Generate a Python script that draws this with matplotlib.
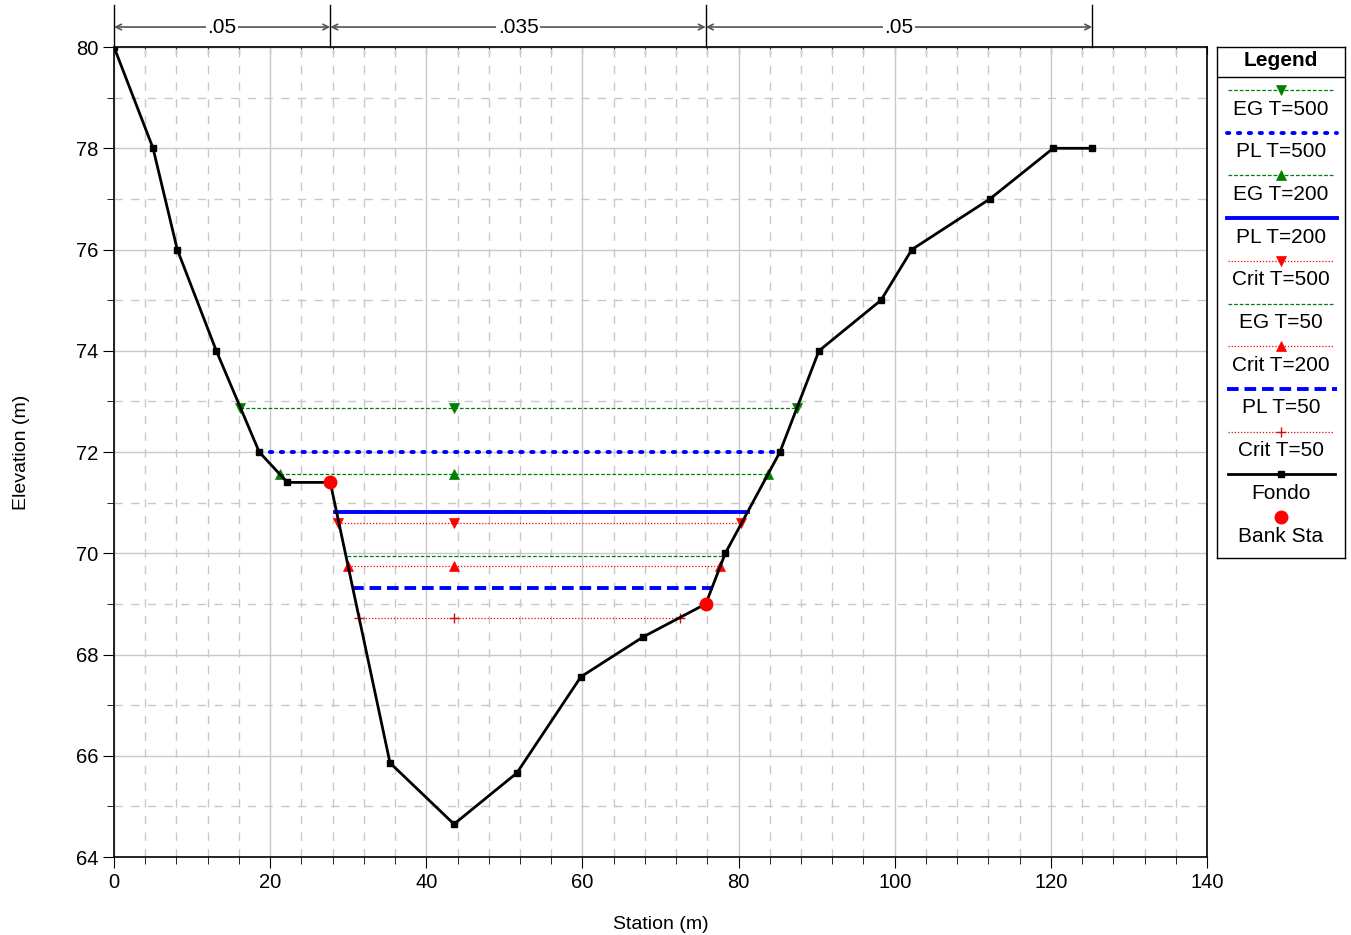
import numpy as np
import matplotlib.pyplot as plt
from matplotlib.ticker import MultipleLocator

plt.rcParams['font.family'] = ['Liberation Sans', 'DejaVu Sans']

# ground profile (Fondo)
ground_sta = [0, 5.0, 8.1, 13.1, 18.6, 22.2, 27.7, 35.35, 43.55, 51.6, 59.8, 67.8, 75.8, 78.3, 85.3, 90.3, 98.25, 102.2, 112.2, 120.3, 125.3]
ground_elev = [80.0, 78.0, 76.0, 74.0, 72.0, 71.4, 71.4, 65.86, 64.65, 65.66, 67.56, 68.35, 69.0, 70.0, 72.0, 74.0, 75.0, 76.0, 77.0, 78.0, 78.0]

bank_sta = [27.7, 75.8]
bank_elev = [71.4, 69.0]

# manning n
n_breaks = [0, 27.7, 75.8, 125.3]
n_values = ['.05', '.035', '.05']

# water surfaces
ws_names = ['EG T=500', 'PL T=500', 'EG T=200', 'PL T=200', 'Crit T=500',
            'EG T=50', 'Crit T=200', 'PL T=50', 'Crit T=50']
ws_elev = [72.87, 72.0, 71.57, 70.81, 70.6, 69.95, 69.75, 69.31, 68.72]
ws_left = [16.1, 18.6, 21.3, 28.3, 28.7, 29.8, 30.0, 30.5, 31.4]
ws_right = [87.5, 85.0, 83.8, 81.2, 80.3, 78.3, 77.6, 76.7, 72.5]

styles = {
    'EG T=500': dict(color='green', ls=(0, (3, 1.5)), lw=0.9, marker='v'),
    'PL T=500': dict(color='blue', ls=(0, (0.6, 2.2)), lw=2.8, marker=None, dash_capstyle='round'),
    'EG T=200': dict(color='green', ls=(0, (3, 1.5)), lw=0.9, marker='^'),
    'PL T=200': dict(color='blue', ls='-', lw=2.8, marker=None),
    'Crit T=500': dict(color='red', ls=(0, (1, 1.5)), lw=0.9, marker='v'),
    'EG T=50': dict(color='green', ls=(0, (3, 1.5)), lw=0.9, marker=None),
    'Crit T=200': dict(color='red', ls=(0, (1, 1.5)), lw=0.9, marker='^'),
    'PL T=50': dict(color='blue', ls=(0, (3, 1.5)), lw=2.8, marker=None),
    'Crit T=50': dict(color='#d01010', ls=(0, (1, 1.5)), lw=0.9, marker='+'),
}

fig = plt.figure(figsize=(13.51, 9.35), dpi=100)
ax = fig.add_axes([0.0844, 0.0834, 0.809, 0.8663])

thalweg = ground_sta[int(np.argmin(ground_elev))]

for name, z, xl, xr in zip(ws_names, ws_elev, ws_left, ws_right):
    st = styles[name]
    kw = {}
    if 'dash_capstyle' in st:
        kw['dash_capstyle'] = st['dash_capstyle']
    ax.plot([xl, xr], [z, z], color=st['color'], linestyle=st['ls'], linewidth=st['lw'], zorder=3, **kw)
    if st['marker']:
        ax.plot([xl, thalweg, xr], [z, z, z], linestyle='none', marker=st['marker'],
                color=st['color'], markersize=7,
                markeredgewidth=1 if st['marker'] == '+' else 0.5, zorder=4)

ax.plot(ground_sta, ground_elev, color='black', lw=2, marker='s', markersize=4, zorder=5)
ax.plot(bank_sta, bank_elev, 'o', color='red', markersize=9, zorder=6)

ax.set_xlim(0, 140)
ax.set_ylim(64, 80)
ax.xaxis.set_major_locator(MultipleLocator(20))
ax.xaxis.set_minor_locator(MultipleLocator(4))
ax.yaxis.set_major_locator(MultipleLocator(2))
ax.yaxis.set_minor_locator(MultipleLocator(1))
ax.grid(which='major', color='#c8c8c8', lw=1, ls='-')
ax.grid(which='minor', color='#c8c8c8', lw=1, ls=(0, (6, 6)))
ax.set_axisbelow(True)
ax.tick_params(which='major', direction='out', length=8, labelsize=14.5)
ax.tick_params(which='minor', direction='out', length=5)
for s in ax.spines.values():
    s.set_linewidth(1.2)
ax.set_xlabel('Station (m)', fontsize=14, labelpad=17)
ax.set_ylabel('Elevation (m)', fontsize=14, labelpad=33)

top = ax.secondary_xaxis('top')
top.xaxis.set_major_locator(MultipleLocator(4))
top.tick_params(direction='in', length=5, labeltop=False)

# manning n annotations
ytop = 80.83
yarr = 80.395
for x in n_breaks:
    ax.plot([x, x], [80, ytop], color='black', lw=1, clip_on=False)
for i, txt in enumerate(n_values):
    x0, x1 = n_breaks[i], n_breaks[i + 1]
    ax.annotate('', xy=(x1, yarr), xytext=(x0, yarr),
                arrowprops=dict(arrowstyle='<->', color='#555555', lw=1.2,
                                shrinkA=0, shrinkB=0), annotation_clip=False)
    ax.text((x0 + x1) / 2, yarr, txt, ha='center', va='center', fontsize=15,
            bbox=dict(facecolor='white', edgecolor='none', pad=1), clip_on=False)

# legend box
lg = fig.add_axes([0.9008, 0.4032, 0.0947, 0.5465])
lg.set_xlim(0, 128)
lg.set_ylim(511, 0)
lg.set_xticks([])
lg.set_yticks([])
for s in lg.spines.values():
    s.set_linewidth(1)
lg.text(64, 13, 'Legend', ha='center', va='center', fontsize=15, fontweight='bold')
lg.plot([0, 128], [30, 30], color='black', lw=1)

entries = ws_names + ['Fondo', 'Bank Sta']
for i, name in enumerate(entries):
    yl = 43 + 42.7 * i
    if name in styles:
        st = styles[name]
        x0, x1 = (10, 120) if st['lw'] > 2 else (11, 117)
        kw = {}
        if 'dash_capstyle' in st:
            kw['dash_capstyle'] = st['dash_capstyle']
        lg.plot([x0, x1], [yl, yl], color=st['color'], linestyle=st['ls'], linewidth=st['lw'], **kw)
        if st['marker']:
            lg.plot([64], [yl], marker=st['marker'], color=st['color'], markersize=7,
                    markeredgewidth=1 if st['marker'] == '+' else 0.5)
    elif name == 'Fondo':
        lg.plot([11, 118], [yl, yl], color='black', lw=2)
        lg.plot([64], [yl], marker='s', color='black', markersize=4)
    else:
        lg.plot([64], [yl], marker='o', color='red', markersize=9)
    lg.text(64, yl + 19, name, ha='center', va='center', fontsize=15)

fig.savefig('out.png', dpi=100)
